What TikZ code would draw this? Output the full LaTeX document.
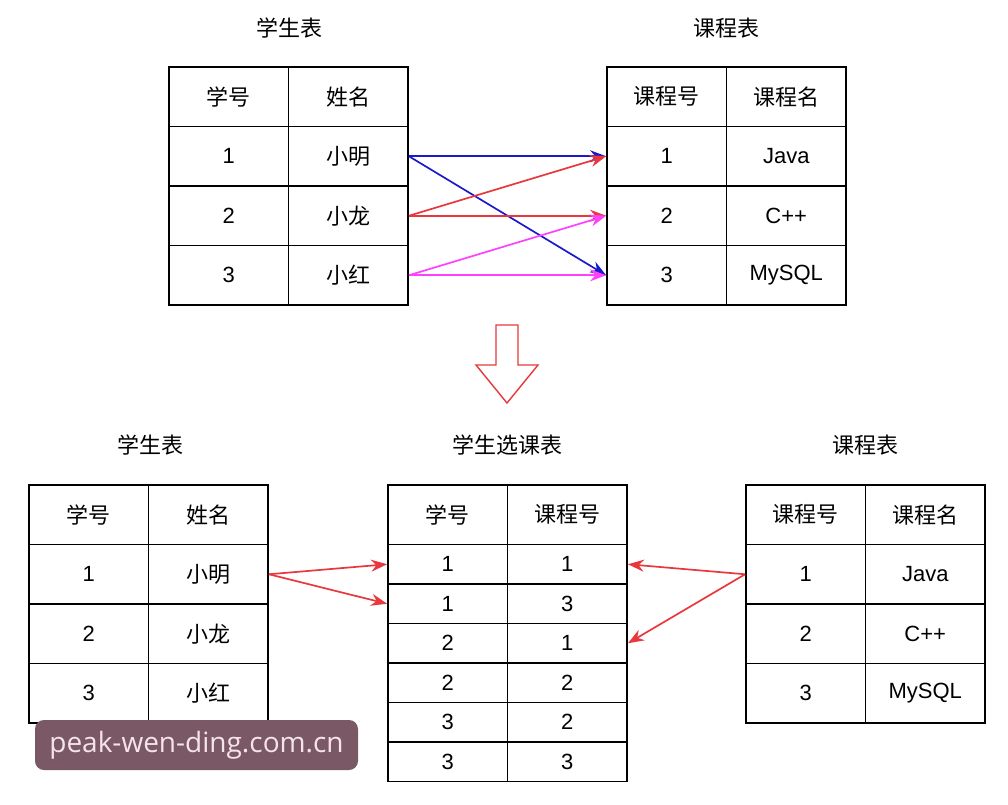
\documentclass[tikz,border=0pt]{standalone}
\usepackage{fontspec}
\setmainfont{Liberation Sans}
\newfontfamily\cjk{Noto Sans CJK SC}
\newfontfamily\wmfont{Open Sans}
\usetikzlibrary{arrows.meta}
\definecolor{lnblue}{HTML}{1A1ACC}
\definecolor{lnred}{HTML}{E8383D}
\definecolor{lnpink}{HTML}{FF40FF}
\definecolor{wmback}{HTML}{7A5866}
\definecolor{wmtext}{HTML}{F5E4E9}

\begin{document}
\begin{tikzpicture}[x=1pt,y=-1pt]
\tikzstyle{every node}+=[inner sep=0pt]
\tikzstyle{cell}=[draw=black,line width=1.8pt,minimum width=119.5pt,minimum height=59.5pt,font=\fontsize{22}{22}\selectfont]
\tikzstyle{row}=[cell,minimum height=39.5pt]
\tikzstyle{title}=[font=\cjk\fontsize{22}{22}\selectfont]
\tikzstyle{link}=[line width=1.7pt,-{Stealth[length=16pt,width=12pt]}]
\fill [white] (0,0) rectangle (1008,804);
\useasboundingbox (0,0) rectangle (1008,804);
\node [title] (tstu) at (289,28) {学生表};
\node [cell] (sh1) at (228.75,96.75) {\cjk 学号};
\node [cell] (sh2) at (348.25,96.75) {\cjk 姓名};
\node [cell] (sid1) at (228.75,156.25) {1};
\node [cell] (sn1) at (348.25,156.25) {\cjk 小明};
\node [cell] (sid2) at (228.75,215.75) {2};
\node [cell] (sn2) at (348.25,215.75) {\cjk 小龙};
\node [cell] (sid3) at (228.75,275.25) {3};
\node [cell] (sn3) at (348.25,275.25) {\cjk 小红};
\node [title] (tcrs) at (726,28) {课程表};
\node [cell] (ch1) at (666.75,96.75) {\cjk 课程号};
\node [cell] (ch2) at (786.25,96.75) {\cjk 课程名};
\node [cell] (cid1) at (666.75,156.25) {1};
\node [cell] (cn1) at (786.25,156.25) {Java};
\node [cell] (cid2) at (666.75,215.75) {2};
\node [cell] (cn2) at (786.25,215.75) {C++};
\node [cell] (cid3) at (666.75,275.25) {3};
\node [cell] (cn3) at (786.25,275.25) {MySQL};
\draw [link,lnblue] (sn1.east) -- (cid1.west);
\draw [link,lnblue] (sn1.east) -- (cid3.west);
\draw [link,lnred] (sn2.east) -- (cid1.west);
\draw [link,lnred] (sn2.east) -- (cid2.west);
\draw [link,lnpink] (sn3.east) -- (cid2.west);
\draw [link,lnpink] (sn3.east) -- (cid3.west);
\draw [lnred,line width=1.4pt,line join=miter] (496,325) -- (518,325) -- (518,365) -- (538,365) -- (507,403) -- (476,365) -- (496,365) -- cycle;
\node [title] (bstu) at (150,445) {学生表};
\node [cell] (bsh1) at (88.75,514.75) {\cjk 学号};
\node [cell] (bsh2) at (208.25,514.75) {\cjk 姓名};
\node [cell] (bsid1) at (88.75,574.25) {1};
\node [cell] (bsn1) at (208.25,574.25) {\cjk 小明};
\node [cell] (bsid2) at (88.75,633.75) {2};
\node [cell] (bsn2) at (208.25,633.75) {\cjk 小龙};
\node [cell] (bsid3) at (88.75,693.25) {3};
\node [cell] (bsn3) at (208.25,693.25) {\cjk 小红};
\node [title] (tsel) at (507,445) {学生选课表};
\node [cell] (jh1) at (447.75,514.75) {\cjk 学号};
\node [cell] (jh2) at (567.25,514.75) {\cjk 课程号};
\node [row] (j11) at (447.75,564.25) {1};
\node [row] (j12) at (567.25,564.25) {1};
\node [row] (j21) at (447.75,603.75) {1};
\node [row] (j22) at (567.25,603.75) {3};
\node [row] (j31) at (447.75,643.25) {2};
\node [row] (j32) at (567.25,643.25) {1};
\node [row] (j41) at (447.75,682.75) {2};
\node [row] (j42) at (567.25,682.75) {2};
\node [row] (j51) at (447.75,722.25) {3};
\node [row] (j52) at (567.25,722.25) {2};
\node [row] (j61) at (447.75,761.75) {3};
\node [row] (j62) at (567.25,761.75) {3};
\node [title] (bcrs) at (865,445) {课程表};
\node [cell] (bch1) at (805.75,514.75) {\cjk 课程号};
\node [cell] (bch2) at (925.25,514.75) {\cjk 课程名};
\node [cell] (bcid1) at (805.75,574.25) {1};
\node [cell] (bcn1) at (925.25,574.25) {Java};
\node [cell] (bcid2) at (805.75,633.75) {2};
\node [cell] (bcn2) at (925.25,633.75) {C++};
\node [cell] (bcid3) at (805.75,693.25) {3};
\node [cell] (bcn3) at (925.25,693.25) {MySQL};
\draw [link,lnred] (bsn1.east) -- (j11.west);
\draw [link,lnred] (bsn1.east) -- (j21.west);
\draw [link,lnred] (bcid1.west) -- (j12.east);
\draw [link,lnred] (bcid1.west) -- (j32.east);
\node [fill=wmback,rounded corners=9pt,minimum width=323pt,minimum height=50pt,text=wmtext,font=\wmfont\fontsize{28}{28}\selectfont] (mark) at (196.5,745) {peak-wen-ding.com.cn};
\end{tikzpicture}
\end{document}
